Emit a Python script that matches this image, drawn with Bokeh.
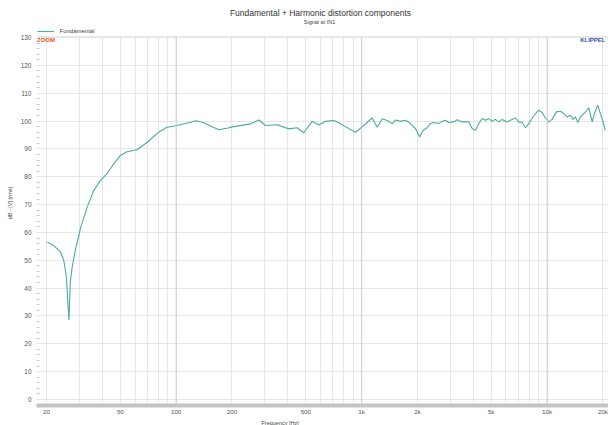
from bokeh.plotting import figure
from bokeh.models import (Range1d, FixedTicker, Label, Legend, LegendItem, Span, Title, BoxAnnotation)
from bokeh.embed import file_html
from bokeh.resources import INLINE

# ---- data ----
freq = [20.2, 21.9, 23.8, 24.8, 25.6, 26.4, 26.9, 27.5, 28.7, 30.6, 33.1, 35.9, 39.0, 42.3, 46.0,
        50.0, 54.3, 61.5, 69.9, 80.4, 89.1, 101, 114, 128, 140, 150, 170, 190, 205, 252, 279,
        303, 351, 405, 449, 488, 541, 587, 638, 708, 769, 818, 927, 1028, 1140, 1213, 1291,
        1374, 1463, 1524, 1620, 1722, 1833, 1950, 2056, 2146, 2255, 2349, 2449, 2606, 2718,
        2831, 2950, 3138, 3273, 3483, 3784, 3945, 4111, 4285, 4466, 4656, 4842, 5047, 5260,
        5483, 5715, 6084, 6343, 6745, 7031, 7345, 7640, 7962, 8298, 8650, 9016, 9397, 9795,
        10210, 10640, 11230, 11800, 12300, 12830, 13370, 13810, 14220, 14630, 15130, 16100,
        16790, 17510, 18000, 18750, 19380, 20040, 20590]
level = [56.5, 55.3, 52.9, 49.9, 43.9, 28.6, 42.7, 47.5, 54.1, 61.9, 69.0, 75.0, 78.6, 81.0, 84.6,
         87.6, 89.0, 89.7, 92.4, 96.0, 97.8, 98.4, 99.2, 100.1, 99.5, 98.5, 96.9, 97.5, 98.0, 99.0, 100.4,
         98.4, 98.7, 97.2, 97.6, 95.8, 99.9, 98.6, 99.9, 100.2, 99.0, 98.0, 96.0, 98.4, 101.1, 97.8, 100.8,
         100.2, 99.0, 100.4, 99.9, 100.3, 99.1, 97.3, 94.3, 96.7, 97.6, 99.1, 99.5, 99.1, 99.9,
         100.3, 99.5, 99.7, 100.5, 99.7, 99.7, 97.3, 96.7, 99.1, 100.9, 100.3, 100.9, 99.9, 100.6,
         99.7, 100.6, 99.7, 100.3, 101.1, 99.7, 99.5, 97.6, 99.1, 100.9, 102.7, 103.9, 103.1, 101.1,
         99.7, 100.6, 103.3, 103.5, 102.7, 101.5, 102.1, 100.6, 101.5, 99.5, 101.5, 103.3,
         104.7, 99.7, 102.7, 105.7, 102.7, 99.7, 96.7]

x_label_ticks = [20, 50, 100, 200, 500, 1000, 2000, 5000, 10000, 20000]
x_label_text = ["20", "50", "100", "200", "500", "1k", "2k", "5k", "10k", "20k"]
grid_freqs = [20, 30, 40, 50, 60, 70, 80, 90, 100, 200, 300, 400, 500, 600, 700, 800, 900,
              1000, 2000, 3000, 4000, 5000, 6000, 7000, 8000, 9000, 10000, 20000]
decades = [100, 1000, 10000]
y_ticks = [0, 10, 20, 30, 40, 50, 60, 70, 80, 90, 100, 110, 120, 130]
y_minor = [v + d for v in y_ticks[:-1] for d in (2, 4, 6, 8)]

title_text = "Fundamental + Harmonic distortion components"
subtitle_text = "Signal at IN1"
series_name = "Fundamental"
x_title = "Frequency [Hz]"
y_title = "dB - [V] (rms)"

FONT = "Liberation Sans"
LINE = "#4aaca2"
TOP_DB = 130.3

p = figure(width=608, height=425, x_axis_type="log", output_backend="svg",
           toolbar_location=None, title=None,
           x_range=Range1d(17.66, 21430), y_range=Range1d(-2.15, 143.3),
           min_border_left=36, min_border_right=0, min_border_top=0, min_border_bottom=18)
p.background_fill_color = "white"
p.border_fill_color = "white"
p.outline_line_color = None

# x axis
xa = p.xaxis[0]
xa.ticker = FixedTicker(ticks=x_label_ticks, minor_ticks=[])
xa.major_label_overrides = {t: s for t, s in zip(x_label_ticks, x_label_text)}
xa.axis_line_color = "#c4c4c4"
xa.axis_line_width = 4
xa.major_tick_line_color = None
xa.minor_tick_line_color = None
xa.major_tick_in = 0
xa.major_tick_out = 0
xa.minor_tick_in = 0
xa.minor_tick_out = 0
xa.major_label_standoff = 2
xa.major_label_text_font = FONT
xa.major_label_text_font_size = "6.2px"
xa.major_label_text_color = "#555555"

# y axis
ya = p.yaxis[0]
ya.ticker = FixedTicker(ticks=y_ticks, minor_ticks=y_minor)
ya.axis_line_color = None
ya.major_tick_line_color = None
ya.major_tick_in = 0
ya.major_tick_out = 0
ya.minor_tick_in = 3
ya.minor_tick_out = 0
ya.minor_tick_line_color = "#c8c8c8"
ya.major_label_standoff = 5
ya.major_label_text_font = FONT
ya.major_label_text_font_size = "6.5px"
ya.major_label_text_color = "#555555"
ya.axis_label = y_title
ya.axis_label_standoff = 5
ya.axis_label_text_font = FONT
ya.axis_label_text_font_size = "5.5px"
ya.axis_label_text_font_style = "normal"
ya.axis_label_text_color = "#444444"

p.xgrid.ticker = FixedTicker(ticks=grid_freqs, minor_ticks=[])
p.xgrid.grid_line_color = "#e6e6e6"
p.ygrid.grid_line_color = "#e6e6e6"
for d in decades:
    p.add_layout(Span(location=d, dimension="height", line_color="#cdcdcd", line_width=1))

r = p.line(freq, level, line_color=LINE, line_width=1.1)

# white header area above the plotting area (hides grid lines there)
p.add_layout(BoxAnnotation(bottom=TOP_DB, fill_color="white", fill_alpha=1.0, line_color=None))
p.add_layout(Span(location=TOP_DB, dimension="width", line_color="#e4e4e4", line_width=1))

FL, FB = 36, 405   # page position of frame left / frame bottom

legend = Legend(items=[LegendItem(label=series_name, renderers=[r])],
                location=(0.5, FB - 35), orientation="horizontal",
                padding=0, margin=0, spacing=0, label_standoff=6,
                glyph_width=17, glyph_height=8, label_height=8,
                label_text_font=FONT, label_text_font_size="6px", label_text_color="#444444",
                border_line_color=None, background_fill_alpha=0)
p.add_layout(legend)

def lab(text, px, py, size, color, align="left", bold=False):
    p.add_layout(Label(x=px - FL, y=FB - py, x_units="screen", y_units="screen", text=text,
                       text_font=FONT, text_font_size=size, text_color=color,
                       text_align=align, text_baseline="middle",
                       text_font_style="bold" if bold else "normal"))

lab(title_text, 320, 12.5, "8.5px", "#333333", align="center")
lab(subtitle_text, 319, 21, "5.5px", "#444444", align="center")
lab("ZOOM", 36.5, 39.5, "6px", "#e8541e", bold=True)
lab("KLIPPEL", 605, 39.5, "6px", "#3557a8", align="right", bold=True)

# x axis title below tick labels
p.add_layout(Title(text=x_title, align="left", offset=225, text_font=FONT, text_font_size="5.5px",
                   text_font_style="normal", text_color="#444444", standoff=0), "below")

open("out.html", "w").write(file_html(p, INLINE))
